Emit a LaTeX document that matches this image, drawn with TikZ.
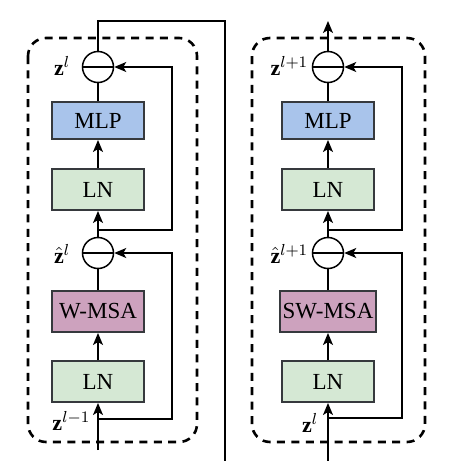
\documentclass[tikz,border=0pt]{standalone}
\usepackage{fontspec}
\setmainfont{Liberation Serif}
\usetikzlibrary{arrows.meta}
\definecolor{mlpblue}{HTML}{A9C4EB}
\definecolor{lngreen}{HTML}{D5E8D4}
\definecolor{msapurple}{HTML}{CDA2BE}
\definecolor{boxline}{HTML}{36393D}
\newcommand{\resx}{74}

\begin{document}
\begin{tikzpicture}[x=0.5pt, y=-0.5pt, >={Stealth[length=6pt,width=5pt,inset=1.5pt]}, line width=0.75pt]
  \tikzset{layer/.style={draw=boxline, line width=1pt, minimum width=46pt, minimum height=20.5pt, inner sep=1pt, font=\fontsize{11.5}{13}\selectfont}}
  \tikzset{sumop/.style={draw, circle, minimum size=15.5pt, inner sep=0pt, path picture={\draw (path picture bounding box.west) -- (path picture bounding box.east);}}}
  \tikzset{blockframe/.style={line width=1.3pt, dash pattern=on 4pt off 3.2pt, rounded corners=9pt}}
  \tikzset{var/.style={anchor=base east, inner sep=0pt, font=\fontsize{11}{13}\selectfont}}
  \useasboundingbox (0,0) rectangle (461,461);
  % left block
  \draw[blockframe] (28,38) rectangle (197,442);
  \node[sumop] (sumA) at (98,67) {};
  \node[layer, fill=mlpblue, minimum height=18.5pt] (mlpL) at (98,120.5) {MLP};
  \node[layer, fill=lngreen] (lnA) at (98,189.5) {LN};
  \node[sumop] (sumB) at (98,253) {};
  \node[layer, fill=msapurple] (msaL) at (98,311.5) {W-MSA};
  \node[layer, fill=lngreen] (lnB) at (98,381.5) {LN};
  \node[var] (zA) at (71,75) {$\mathbf{z}^{l}$};
  \node[var] (zhatA) at (71,263) {$\hat{\mathbf{z}}^{l}$};
  \node[var] (zinL) at (91,430) {$\mathbf{z}^{l-1}$};
  \coordinate (inL) at (98,450);
  \coordinate (splitA) at (98,230);
  \coordinate (splitB) at (98,419);
  \coordinate (topL) at (98,21);
  \coordinate (downL) at (225,461);
  \draw[->] (inL) -- (lnB);
  \draw[->] (lnB) -- (msaL);
  \draw (msaL) -- (sumB);
  \draw[->] (sumB) -- (lnA);
  \draw[->] (lnA) -- (mlpL);
  \draw (mlpL) -- (sumA);
  \draw (sumA) -- (topL) -| (downL);
  \draw[->] (splitA) -- ++(\resx,0) |- (sumA);
  \draw[->] (splitB) -- ++(\resx,0) |- (sumB);
  % right block
  \draw[blockframe] (252,38) rectangle (425,442);
  \node[sumop] (sumC) at (328,67) {};
  \node[layer, fill=mlpblue, minimum height=18.5pt] (mlpR) at (328,120.5) {MLP};
  \node[layer, fill=lngreen] (lnC) at (328,189.5) {LN};
  \node[sumop] (sumD) at (328,253) {};
  \node[layer, fill=msapurple, minimum width=48pt] (msaR) at (328,311.5) {SW-MSA};
  \node[layer, fill=lngreen] (lnD) at (328,381.5) {LN};
  \node[var] (zC) at (309,75) {$\mathbf{z}^{l+1}$};
  \node[var] (zhatC) at (309,263) {$\hat{\mathbf{z}}^{l+1}$};
  \node[var] (zinR) at (319,432) {$\mathbf{z}^{l}$};
  \coordinate (inR) at (328,461);
  \coordinate (splitC) at (328,230);
  \coordinate (splitD) at (328,418);
  \coordinate (outR) at (328,21);
  \draw[->] (inR) -- (lnD);
  \draw[->] (lnD) -- (msaR);
  \draw (msaR) -- (sumD);
  \draw[->] (sumD) -- (lnC);
  \draw[->] (lnC) -- (mlpR);
  \draw (mlpR) -- (sumC);
  \draw[->] (sumC) -- (outR);
  \draw[->] (splitC) -- ++(\resx,0) |- (sumC);
  \draw[->] (splitD) -- ++(\resx,0) |- (sumD);
\end{tikzpicture}
\end{document}
